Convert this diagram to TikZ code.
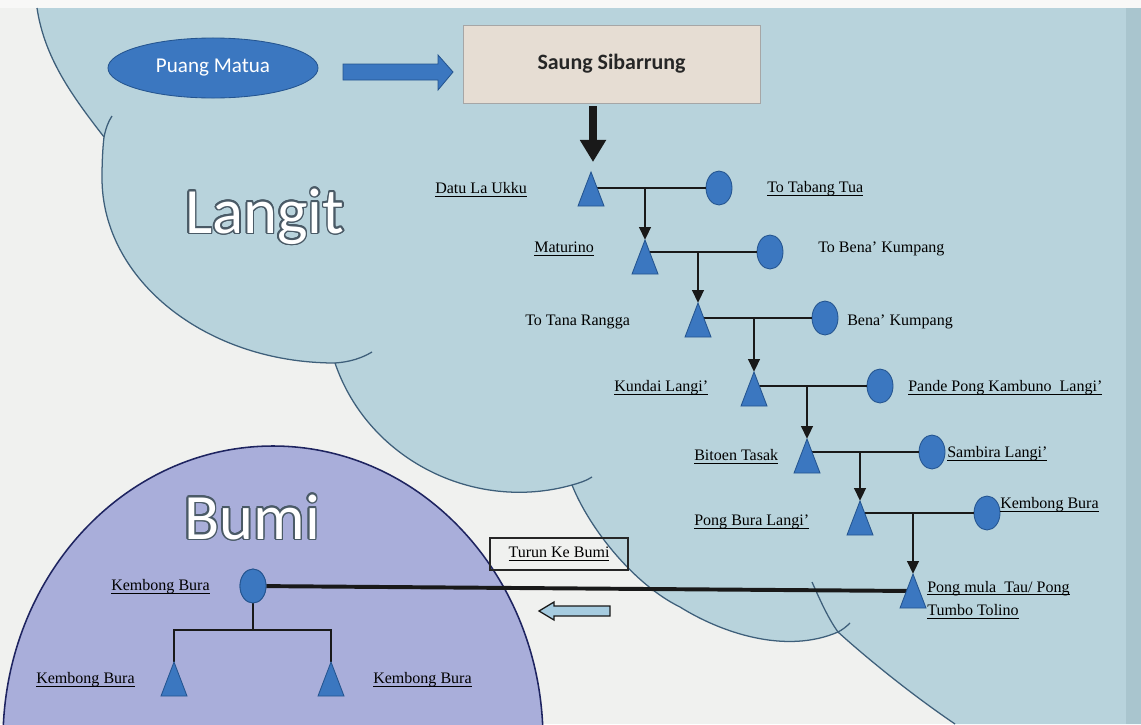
\documentclass[tikz,border=0pt]{standalone}
\usepackage{fontspec}
\setmainfont{Liberation Serif}
\newfontfamily\calfont{Carlito}
\usepackage[copies]{contour}
\contourlength{1.1pt}
\usetikzlibrary{calc,shapes.geometric,arrows.meta}
\definecolor{bgc}{HTML}{F0F1EF}
\definecolor{sky}{HTML}{B8D3DC}
\definecolor{skyedge}{HTML}{3E5F7A}
\definecolor{skyband}{HTML}{A9C5CE}
\definecolor{earth}{HTML}{A9AEDA}
\definecolor{earthedge}{HTML}{1E2460}
\definecolor{symblue}{HTML}{3B77C0}
\definecolor{symedge}{HTML}{24548F}
\definecolor{beige}{HTML}{E6DDD3}
\definecolor{pale}{HTML}{A6CCE0}
\definecolor{wordedge}{HTML}{4A5A66}
\newcommand\uln[1]{\setbox0\hbox{#1}\rlap{\rule[-2.3pt]{\wd0}{0.8pt}}\box0}
\newcommand\gentri[1]{\draw[tri] ($(#1)+(0,-17)$) -- ($(#1)+(13,17)$) -- ($(#1)+(-13,17)$) -- cycle;}
\tikzset{
  lbl/.style={font=\fontsize{11.4pt}{17pt}\selectfont, inner sep=0pt, anchor=west, text=black, align=left},
  circ/.style={ellipse, fill=symblue, draw=symedge, line width=0.6pt, minimum width=0.65cm, minimum height=0.85cm, inner sep=0pt},
  tri/.style={fill=symblue, draw=symedge, line width=0.6pt},
  kin/.style={line width=2.1pt, draw=black!90},
  desc/.style={line width=2.1pt, draw=black!90, -{Triangle[width=0.28cm,length=0.32cm]}},
  cloudline/.style={draw=skyedge, line width=0.9pt},
  bigword/.style={font=\calfont\fontsize{46pt}{50pt}\selectfont, text=white, inner sep=0pt, anchor=base west},
}
\begin{document}
\begin{tikzpicture}[x=0.025cm,y=-0.025cm]
\useasboundingbox (0,0) rectangle (1141,724);
\clip (0,0) rectangle (1141,724);
\fill[bgc] (0,0) rectangle (1141,724);
\fill[white!50!bgc] (0,0) rectangle (1141,8);
% Langit cloud
\fill[sky] (37,8) -- (1141,8) -- (1141,724) -- (955,724)
  .. controls (905,690) and (860,652) .. (838,632)
  .. controls (785,655) and (720,632) .. (680,607)
  .. controls (635,585) and (590,530) .. (572,485)
  .. controls (473.9,512.6) and (367.8,459.5) .. (335,363)
  .. controls (206.3,363) and (102,280.2) .. (102,178)
  .. controls (102,165) and (102.5,150) .. (104,137)
  .. controls (73,97) and (44.5,58.5) .. (37,8) -- cycle;
\fill[skyband] (1126,8) rectangle (1141,724);
\draw[cloudline] (955,724)
  .. controls (905,690) and (860,652) .. (838,632)
  .. controls (785,655) and (720,632) .. (680,607)
  .. controls (635,585) and (590,530) .. (572,485)
  .. controls (473.9,512.6) and (367.8,459.5) .. (335,363)
  .. controls (206.3,363) and (102,280.2) .. (102,178)
  .. controls (102,165) and (102.5,150) .. (104,137)
  .. controls (73,97) and (44.5,58.5) .. (37,8);
\draw[cloudline] (335,363) .. controls (350,362) and (362,358) .. (372,352);
\draw[cloudline] (104,137) .. controls (106,128) and (108,122) .. (112,116);
\draw[cloudline] (572,485) .. controls (579,483) and (586,481) .. (592,477);
\draw[cloudline] (838,632) .. controls (842,630) and (846,627) .. (850,623);
\draw[cloudline] (838,632) .. controls (828,618) and (820,600) .. (812,582);
% Bumi
\fill[earth] (273,740) ellipse [x radius=270, y radius=294];
\draw[earthedge, line width=1.1pt] (273,740) ellipse [x radius=270, y radius=294];
% big words
\node[bigword] (langit) at (185,233) {\contour{wordedge}{Langit}};
\node[bigword] (bumi) at (184,539) {\contour{wordedge}{Bumi}};
% top nodes
\node[ellipse, fill=symblue, draw=symedge, line width=0.6pt, minimum width=5.25cm, minimum height=1.5cm, inner sep=0pt,
  font=\calfont\fontsize{15pt}{18pt}\selectfont, text=white] (pm) at (213,68) {Puang Matua};
\node[rectangle, fill=beige, draw=black!35, line width=0.4pt, minimum width=7.425cm, minimum height=1.95cm,
  font=\calfont\bfseries\fontsize{15.6pt}{18pt}\selectfont, text=black!85] (saung) at (611.5,64) {Saung Sibarrung};
\draw[fill=symblue, draw=symedge, line width=0.6pt] (343,64) -- (438,64) -- (438,55) -- (453,72) -- (438,90) -- (438,80) -- (343,80) -- cycle;
% genealogy coordinates
\coordinate (t1) at (591,189);
\coordinate (t2) at (645,257);
\coordinate (t3) at (698,320);
\coordinate (t4) at (754,389);
\coordinate (t5) at (807,456);
\coordinate (t6) at (860,518);
\coordinate (t7) at (913,591);
\coordinate (tb1) at (174,679);
\coordinate (tb2) at (331,679);
\coordinate (tb1a) at (174,662);
\coordinate (tb2a) at (331,662);
\coordinate (bar) at (253,630);
\node[circ] (c1) at (719,188) {};
\node[circ] (c2) at (770,252) {};
\node[circ] (c3) at (825,318) {};
\node[circ] (c4) at (880,386) {};
\node[circ] (c5) at (932,452) {};
\node[circ] (c6) at (987,513) {};
\node[circ] (b0) at (253,586) {};
% black down arrow
\draw[line width=5pt, draw=black!90, -{Triangle[width=0.62cm,length=0.55cm]}] ($(saung.south -| t1)+(2,3)$) -- ($(t1)+(2,-27)$);
% couple lines
\draw[kin] (t1 |- c1) -- (c1);
\draw[kin] (t2 |- c2) -- (c2);
\draw[kin] (t3 |- c3) -- (c3);
\draw[kin] (t4 |- c4) -- (c4);
\draw[kin] (t5 |- c5) -- (c5);
\draw[kin] (t6 |- c6) -- (c6);
% descent arrows
\draw[desc] (t2 |- c1) -- ($(t2)+(0,-17)$);
\draw[desc] (t3 |- c2) -- ($(t3)+(0,-17)$);
\draw[desc] (t4 |- c3) -- ($(t4)+(0,-17)$);
\draw[desc] (t5 |- c4) -- ($(t5)+(0,-17)$);
\draw[desc] (t6 |- c5) -- ($(t6)+(0,-17)$);
\draw[desc] (t7 |- c6) -- ($(t7)+(0,-17)$);
% long line to Bumi
\draw[line width=2.8pt, draw=black!90] (t7) -- (b0);
% Bumi family
\draw[kin] (b0) -- (bar);
\draw[kin] (tb1a) |- (bar) -| (tb2a);
% triangles
\gentri{t1}\gentri{t2}\gentri{t3}\gentri{t4}\gentri{t5}\gentri{t6}\gentri{t7}
\gentri{tb1}\gentri{tb2}
\node[circ] (b0top) at (b0) {};
% labels
\node[lbl] (l1) at (435,190) {\uln{Datu La Ukku}};
\node[lbl] (l2) at (767,189) {\uln{To Tabang Tua}};
\node[lbl] (l3) at (534,249) {\uln{Maturino}};
\node[lbl] (l4) at (818,249) {To Bena' Kumpang};
\node[lbl] (l5) at (525,322) {To Tana Rangga};
\node[lbl] (l6) at (847,322) {Bena' Kumpang};
\node[lbl] (l7) at (614,388) {\uln{Kundai Langi'}};
\node[lbl] (l8) at (908,388) {\uln{Pande Pong Kambuno\ \ Langi'}};
\node[lbl] (l9) at (694,457) {\uln{Bitoen Tasak}};
\node[lbl] (l10) at (947,454) {\uln{Sambira Langi'}};
\node[lbl] (l11) at (694,522) {\uln{Pong Bura Langi'}};
\node[lbl] (l12) at (1000,505) {\uln{Kembong Bura}};
\node[lbl] (l13) at (927,600) {\uln{Pong mula\ \ Tau/ Pong}\\\uln{Tumbo Tolino}};
\node[lbl] (l14) at (111,587) {\uln{Kembong Bura}};
\node[lbl] (l15) at (36,680) {\uln{Kembong Bura}};
\node[lbl] (l16) at (373,680) {\uln{Kembong Bura}};
\node[draw=black!85, line width=0.9pt, minimum width=3.45cm, minimum height=0.8cm, inner sep=0pt,
  font=\fontsize{11.4pt}{13pt}\selectfont] (turun) at (559,554) {\uln{Turun Ke Bumi}};
% small return arrow
\draw[fill=pale, draw=black!90, line width=0.9pt] (610,606) -- (554,606) -- (554,602) -- (539,611) -- (554,620) -- (554,616) -- (610,616) -- cycle;
\end{tikzpicture}
\end{document}
